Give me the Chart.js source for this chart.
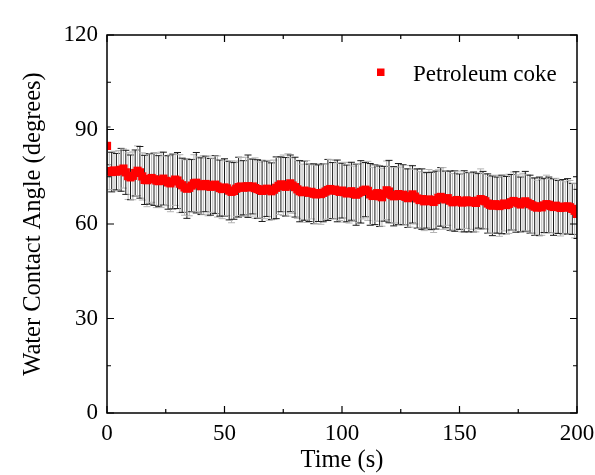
<!DOCTYPE html>
<html>
<head>
<meta charset="utf-8">
<script src="https://cdn.jsdelivr.net/npm/chart.js@4.4.1/dist/chart.umd.min.js"></script>
<style>
html,body{margin:0;padding:0;background:#fff;}
#wrap{width:595px;height:475px;position:relative;}
</style>
</head>
<body>
<div id="wrap"><canvas id="c" width="595" height="475"></canvas></div>
<script>
const seriesLabel = 'Petroleum coke';
const xTitle = 'Time (s)';
const yTitle = 'Water Contact Angle (degrees)';

const times = [0,1,2,3,4,5,6,7,8,9,10,11,12,13,14,15,16,17,18,19,20,21,22,23,24,25,26,27,28,29,30,31,32,33,34,35,36,37,38,39,40,41,42,43,44,45,46,47,48,49,50,51,52,53,54,55,56,57,58,59,60,61,62,63,64,65,66,67,68,69,70,71,72,73,74,75,76,77,78,79,80,81,82,83,84,85,86,87,88,89,90,91,92,93,94,95,96,97,98,99,100,101,102,103,104,105,106,107,108,109,110,111,112,113,114,115,116,117,118,119,120,121,122,123,124,125,126,127,128,129,130,131,132,133,134,135,136,137,138,139,140,141,142,143,144,145,146,147,148,149,150,151,152,153,154,155,156,157,158,159,160,161,162,163,164,165,166,167,168,169,170,171,172,173,174,175,176,177,178,179,180,181,182,183,184,185,186,187,188,189,190,191,192,193,194,195,196,197,198,199,200];

const angles = [84.8,
76.8,76.5,77.0,76.6,76.9,77.2,77.6,76.4,75.2,74.8,
75.3,76.2,76.9,76.4,75.1,74.0,73.9,74.3,74.6,74.2,
73.8,73.6,74.0,74.4,73.7,73.2,72.9,73.5,74.1,73.8,
72.8,72.3,71.6,71.2,71.5,72.2,72.9,73.1,72.6,72.0,
72.4,72.7,72.1,71.8,72.3,72.5,71.9,71.4,71.1,71.6,
71.3,70.6,70.2,70.5,71.2,71.7,71.9,71.5,71.8,72.0,
71.6,71.9,71.4,71.1,70.8,70.5,70.9,71.2,70.7,70.4,
70.9,71.5,72.1,72.6,72.3,71.8,72.4,72.9,72.2,71.7,
71.0,70.4,70.1,70.6,70.3,69.9,70.2,69.6,69.4,69.8,
69.5,69.9,70.3,70.8,71.1,70.6,70.9,70.5,70.2,70.6,
70.1,69.7,69.9,70.4,69.6,69.3,69.8,70.2,70.6,70.9,
70.5,69.4,68.9,69.3,69.8,68.8,68.5,69.6,70.7,70.3,
69.2,68.8,69.1,69.5,68.9,69.3,68.6,68.2,68.8,69.4,
68.7,68.1,67.6,67.9,67.2,67.5,67.8,67.3,67.0,67.6,
68.3,68.6,68.1,67.8,68.2,67.4,66.9,67.3,67.6,67.1,
66.8,67.2,67.5,66.9,67.3,67.0,66.7,67.4,67.9,67.6,
67.2,66.5,66.1,65.8,66.3,66.0,65.7,66.2,66.5,66.0,
66.4,66.9,67.3,67.0,66.6,66.2,66.8,67.2,66.7,66.3,
65.9,65.5,65.2,65.6,65.3,65.9,66.3,66.1,65.7,65.4,
65.8,65.4,65.1,65.5,65.2,65.6,65.3,64.8,64.2,63.2];

const errors = [6.0,
5.9,6.3,6.1,5.8,6.4,6.8,6.2,7.0,7.4,7.1,
7.6,7.3,7.9,8.2,7.5,7.8,8.4,8.0,7.7,8.3,
8.6,8.1,8.8,8.4,7.9,8.5,9.0,8.7,8.2,8.9,
9.2,8.6,8.8,9.4,8.9,8.3,9.1,9.6,8.7,9.0,
9.3,8.8,9.5,9.0,8.6,9.2,9.7,8.9,9.4,9.1,
8.7,9.3,9.8,9.0,8.8,9.5,9.2,8.6,9.4,9.9,
9.1,8.7,9.6,9.3,8.9,9.7,9.2,8.8,9.5,9.0,
9.4,9.8,9.1,8.7,9.6,9.3,9.9,9.0,8.8,9.5,
9.2,9.7,8.9,9.4,9.8,9.1,8.6,9.5,9.3,9.0,
9.6,9.2,8.8,9.7,9.4,8.9,9.3,9.8,9.1,8.7,
9.5,9.0,9.6,9.2,8.8,9.7,9.3,9.9,9.0,8.6,
9.4,9.8,9.1,9.5,8.9,9.6,9.2,8.7,9.3,9.9,
9.0,9.4,8.8,9.7,9.2,9.5,8.9,9.3,9.8,9.1,
8.7,9.4,9.0,9.6,9.3,8.8,9.5,9.1,9.7,9.2,
8.9,9.3,9.8,9.0,8.6,9.4,9.1,9.6,9.2,8.8,
9.3,9.7,8.9,9.4,9.0,9.5,9.2,8.7,9.6,9.1,
8.8,9.4,9.0,9.5,9.2,8.9,9.6,9.3,8.7,9.1,
9.4,8.8,9.2,9.6,9.0,8.7,9.3,9.5,8.9,9.2,
8.8,9.1,8.7,9.3,8.9,8.6,9.2,8.8,8.5,9.0,
8.7,8.4,8.9,8.6,8.2,8.8,8.5,8.1,8.6,7.8];

const xTicks = [0,50,100,150,200];
const xMinorTicks = [25,75,125,175];
const yTicks = [0,30,60,90,120];
const yMinorTicks = [15,45,75,105];

const FONT = "'Liberation Serif','Times New Roman',serif";

const points = times.map((t, i) => ({x: t, y: angles[i], e: errors[i]}));

const errorBarPlugin = {
  id: 'errorBars',
  beforeDatasetsDraw(chart) {
    const {ctx, chartArea, scales} = chart;
    const xs = scales.x, ys = scales.y;
    ctx.save();
    ctx.beginPath();
    ctx.rect(chartArea.left, chartArea.top, chartArea.right - chartArea.left, chartArea.bottom - chartArea.top);
    ctx.clip();
    ctx.lineWidth = 1;
    chart.data.datasets[0].data.forEach((p, i) => {
      const x = xs.getPixelForValue(p.x);
      const yt = ys.getPixelForValue(p.y + p.e);
      const yb = ys.getPixelForValue(p.y - p.e);
      ctx.strokeStyle = (i % 2 === 0) ? '#1a1a1a' : '#b4b4b4';
      ctx.beginPath();
      ctx.moveTo(x, yt); ctx.lineTo(x, yb);
      ctx.moveTo(x - 3.5, yt); ctx.lineTo(x + 3.5, yt);
      ctx.moveTo(x - 3.5, yb); ctx.lineTo(x + 3.5, yb);
      ctx.stroke();
    });
    ctx.restore();
  }
};

const framePlugin = {
  id: 'frame',
  afterDraw(chart) {
    const {ctx, chartArea, scales} = chart;
    const {left, right, top, bottom} = chartArea;
    ctx.save();
    ctx.strokeStyle = '#000';
    ctx.lineWidth = 1.5;
    ctx.strokeRect(left, top, right - left, bottom - top);
    ctx.lineWidth = 1.2;
    ctx.beginPath();
    const tick = (vals, len) => {
      vals.forEach(v => {
        const x = scales.x.getPixelForValue(v);
        ctx.moveTo(x, bottom); ctx.lineTo(x, bottom - len);
        ctx.moveTo(x, top); ctx.lineTo(x, top + len);
      });
    };
    const tickY = (vals, len) => {
      vals.forEach(v => {
        const y = scales.y.getPixelForValue(v);
        ctx.moveTo(left, y); ctx.lineTo(left + len, y);
        ctx.moveTo(right, y); ctx.lineTo(right - len, y);
      });
    };
    tick(xTicks, 7); tick(xMinorTicks, 4);
    tickY(yTicks, 7); tickY(yMinorTicks, 4);
    ctx.stroke();

    // legend
    ctx.fillStyle = '#ff0000';
    ctx.fillRect(377, 68.5, 7.5, 7.5);
    ctx.fillStyle = '#000';
    ctx.font = "23px " + FONT;
    ctx.textBaseline = 'alphabetic';
    ctx.textAlign = 'left';
    ctx.fillText(chart.data.datasets[0].label, 413, 80.5);
    ctx.restore();
  }
};

new Chart(document.getElementById('c'), {
  type: 'scatter',
  data: {
    datasets: [{
      label: seriesLabel,
      data: points,
      pointStyle: 'rect',
      pointRadius: 5.8,
      pointHoverRadius: 5.8,
      backgroundColor: '#ff0000',
      borderColor: '#ff0000',
      borderWidth: 0,
      showLine: false,
      clip: 0
    }]
  },
  options: {
    responsive: false,
    animation: false,
    events: [],
    layout: {padding: {left: 0, right: 18, top: 35, bottom: 0}},
    plugins: {legend: {display: false}, tooltip: {enabled: false}},
    scales: {
      x: {
        type: 'linear',
        min: 0, max: 200,
        afterFit(scale) { scale.height = 62; scale.paddingLeft = 0; scale.paddingRight = 0; },
        afterBuildTicks(scale) { scale.ticks = xTicks.map(v => ({value: v})); },
        grid: {display: false, drawTicks: false},
        border: {display: false},
        ticks: {font: {family: FONT, size: 23}, color: '#000', padding: 7, maxRotation: 0, autoSkip: false},
        title: {display: true, text: xTitle, font: {family: FONT, size: 24.5}, color: '#000', padding: {top: 0, bottom: 0}}
      },
      y: {
        type: 'linear',
        min: 0, max: 120,
        afterFit(scale) { scale.width = 107; scale.paddingTop = 0; scale.paddingBottom = 0; },
        afterBuildTicks(scale) { scale.ticks = yTicks.map(v => ({value: v})); },
        grid: {display: false, drawTicks: false},
        border: {display: false},
        ticks: {font: {family: FONT, size: 23}, color: '#000', padding: 9},
        title: {display: true, text: yTitle, font: {family: FONT, size: 24.5}, color: '#000', padding: {top: 19, bottom: 0}}
      }
    }
  },
  plugins: [errorBarPlugin, framePlugin]
});
</script>
</body>
</html>
